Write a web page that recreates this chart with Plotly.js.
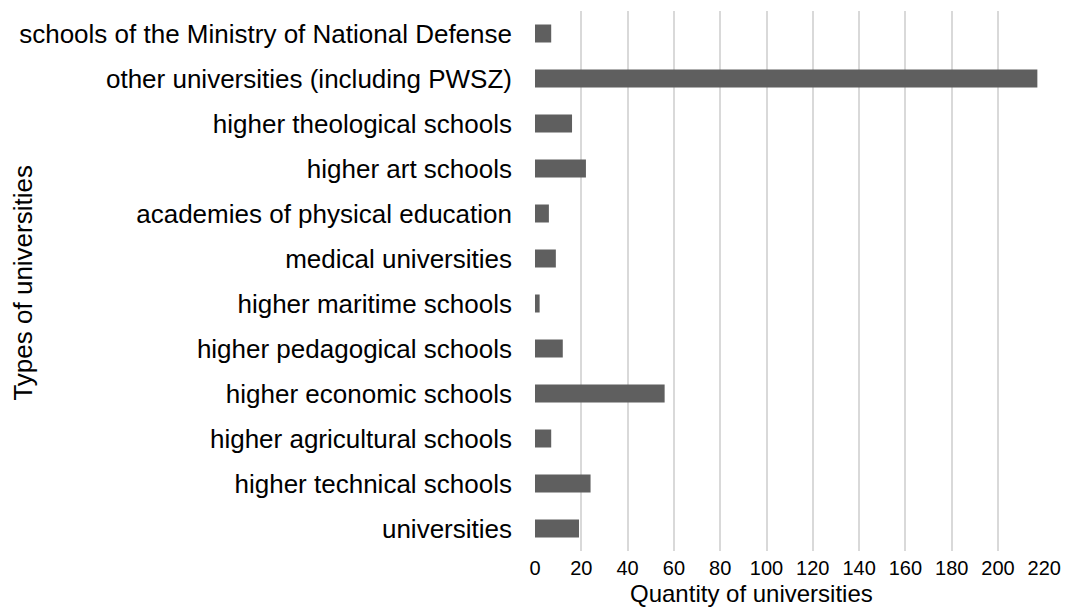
<!DOCTYPE html>
<html>
<head>
<meta charset="utf-8">
<script src="https://cdn.plot.ly/plotly-3.0.1.min.js"></script>
<style>html,body{margin:0;padding:0;background:#fff;}#chart{width:1065px;height:608px;}</style>
</head>
<body>
<div id="chart"></div>
<script>
const categories = [
  "universities",
  "higher technical schools",
  "higher agricultural schools",
  "higher economic schools",
  "higher pedagogical schools",
  "higher maritime schools",
  "medical universities",
  "academies of physical education",
  "higher art schools",
  "higher theological schools",
  "other universities (including PWSZ)",
  "schools of the Ministry of National Defense"
];
const quantities = [19, 24, 7, 56, 12, 2, 9, 6, 22, 16, 217, 7];
const tickValues = [0, 20, 40, 60, 80, 100, 120, 140, 160, 180, 200, 220];
const xTitle = "Quantity of universities";
const yTitle = "Types of universities";

const font = "Liberation Sans, Arial, sans-serif";

Plotly.newPlot("chart", [{
  type: "bar",
  orientation: "h",
  y: categories,
  x: quantities,
  marker: {color: "#5f5f5f"},
  hoverinfo: "x+y"
}], {
  width: 1065,
  height: 608,
  margin: {l: 535, r: 20, t: 11, b: 57, pad: 0},
  paper_bgcolor: "#fff",
  plot_bgcolor: "#fff",
  bargap: 0.6,
  showlegend: false,
  font: {family: font, color: "#000"},
  xaxis: {
    range: [0, 220.3],
    tickvals: tickValues,
    ticktext: tickValues.map(String),
    showgrid: true,
    gridcolor: "#d9d9d9",
    gridwidth: 2,
    zeroline: false,
    showline: false,
    ticks: "",
    ticklabelstandoff: 3,
    tickfont: {family: font, size: 20, color: "#000"},
    fixedrange: true
  },
  yaxis: {
    type: "category",
    categoryorder: "array",
    categoryarray: categories,
    showgrid: false,
    zeroline: false,
    showline: false,
    ticks: "",
    ticklabelstandoff: 22,
    tickfont: {family: font, size: 26, color: "#000"},
    fixedrange: true
  },
  annotations: [
    {text: xTitle, xref: "paper", yref: "paper", x: 0.424, y: -0.05, xanchor: "center", yanchor: "top",
     showarrow: false, font: {family: font, size: 24, color: "#000"}},
    {text: yTitle, xref: "paper", yref: "paper", x: -1.004, y: 0.497, xanchor: "center", yanchor: "middle",
     textangle: -90, showarrow: false, font: {family: font, size: 26, color: "#000"}}
  ]
}, {displayModeBar: false, staticPlot: true});
</script>
</body>
</html>
